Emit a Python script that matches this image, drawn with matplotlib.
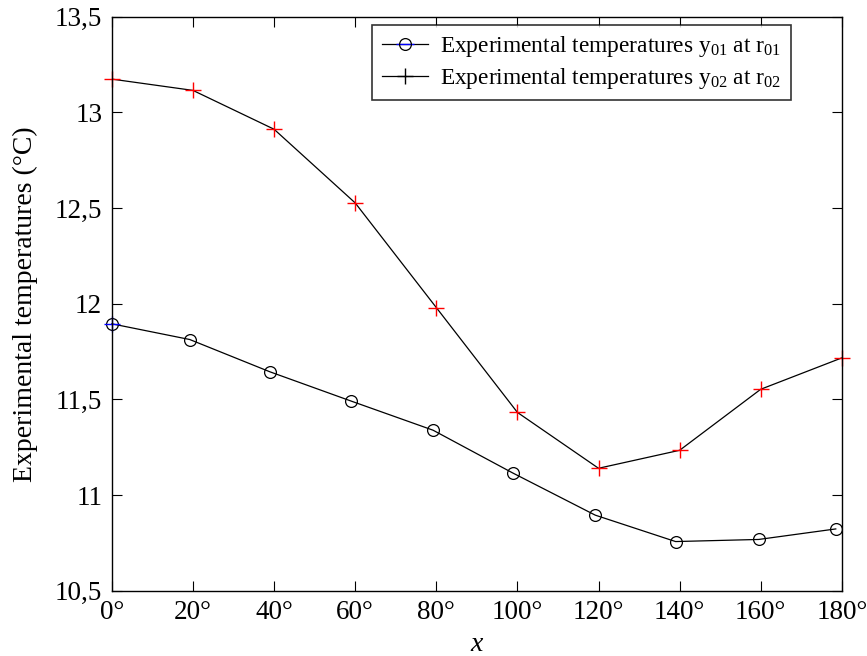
import numpy as np
import matplotlib.pyplot as plt
from matplotlib.lines import Line2D
from matplotlib.legend_handler import HandlerTuple

plt.rcParams['font.family'] = ['Liberation Serif', 'DejaVu Serif']
plt.rcParams['mathtext.fontset'] = 'custom'
plt.rcParams['mathtext.rm'] = 'Liberation Serif'
plt.rcParams['mathtext.it'] = 'Liberation Serif:italic'

# measured temperatures along the angle, two radii
x01 = [0, 19.2, 39, 58.9, 79.2, 98.8, 119.2, 139, 159.5, 178.5]
y01 = [11.895, 11.813, 11.644, 11.492, 11.339, 11.116, 10.895, 10.757, 10.768, 10.823]
x02 = [0, 20, 40, 60, 80, 100, 120, 140, 160, 180]
y02 = [13.174, 13.115, 12.912, 12.527, 11.98, 11.432, 11.14, 11.234, 11.553, 11.717]

xticks = [0, 20, 40, 60, 80, 100, 120, 140, 160, 180]
yticks = [10.5, 11, 11.5, 12, 12.5, 13, 13.5]

fig = plt.figure(figsize=(8.67, 6.56), dpi=100)
ax = fig.add_axes([0.129, 0.0995, 0.842, 0.875])

ax.plot(x01, y01, color='black', lw=0.9, marker='o', ms=8.5,
        mfc='none', mec='black', mew=0.9, clip_on=False)
ax.plot(x02, y02, color='black', lw=0.9)
ax.plot(x02, y02, ls='none', marker='+', ms=11, mec='red', mew=1.0, clip_on=False)
ax.plot(x01[:1], y01[:1], ls='none', marker='+', ms=11, mec='blue', mew=1.0, clip_on=False)

ax.set_xlim(0, 180)
ax.set_ylim(10.5, 13.5)
ax.set_xticks(xticks)
ax.set_xticklabels([f'{t}°' for t in xticks])
ax.set_yticks(yticks)
ax.set_yticklabels([f'{t:g}'.replace('.', ',') for t in yticks])
ax.tick_params(direction='in', length=7, width=0.8, top=True, right=True,
               labelsize=19.5, pad=7)
for s in ax.spines.values():
    s.set_linewidth(1.0)

ax.set_xlabel('$x$', fontsize=20, labelpad=5)
ax.set_ylabel('Experimental temperatures (°C)', fontsize=20, labelpad=12)

h1 = (Line2D([], [], color='black', lw=0.9),
      Line2D([], [], color='blue', lw=0, marker='_', ms=13, mec='blue', mew=1.0),
      Line2D([], [], lw=0, marker='o', ms=8.5, mfc='none', mec='black', mew=0.9))
h2 = Line2D([], [], color='black', lw=0.9, marker='+', ms=11, mec='black', mew=1.0)
leg = ax.legend([h1, h2],
                ['Experimental temperatures y$_{01}$ at r$_{01}$',
                 'Experimental temperatures y$_{02}$ at r$_{02}$'],
                handler_map={tuple: HandlerTuple(ndivide=1, pad=0)},
                loc='upper left', bbox_to_anchor=(0.357, 0.986),
                fontsize=16.8, frameon=True, fancybox=False, handlelength=2.0,
                handletextpad=0.5, borderpad=0.4, labelspacing=0.3,
                borderaxespad=0)
leg.get_frame().set_edgecolor('black')
leg.get_frame().set_linewidth(1.2)

fig.savefig('out.png', dpi=100)
